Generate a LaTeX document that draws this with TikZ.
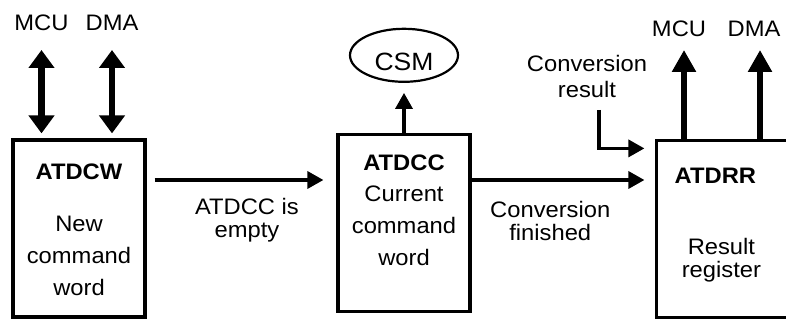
\documentclass[tikz,border=0pt]{standalone}
\usepackage{fontspec}
\setmainfont{Liberation Sans}[FakeStretch=1.06]
\usetikzlibrary{arrows.meta, positioning, shapes.geometric}
\tikzset{
    regblock/.style={rectangle, draw=black, line width=1.6pt, inner sep=0pt, minimum width=66pt, minimum height=88.5pt},
    regtitle/.style={font=\bfseries\fontsize{11.2}{13}\selectfont, inner sep=0pt, anchor=north},
    regtext/.style={font=\fontsize{11.2}{16}\selectfont, align=center, inner sep=0pt, anchor=north},
    sidelabel/.style={font=\fontsize{11.2}{11.5}\selectfont, align=center, inner sep=0pt},
    statenode/.style={ellipse, draw=black, line width=1.1pt, minimum width=54pt, minimum height=26.5pt, inner sep=0pt, font=\fontsize{12.5}{14}\selectfont, text height=15.4pt},
    sigarrow/.style={line width=1.7pt, -{Triangle[length=8pt, width=8.5pt]}},
    busout/.style={line width=3.2pt, -{Triangle[length=11pt, width=11.5pt]}},
    busio/.style={line width=3.2pt, {Triangle[length=9pt, width=12.5pt]}-{Triangle[length=9pt, width=12.5pt]}}
}

\begin{document}
\begin{tikzpicture}[x=0.5pt, y=-0.5pt]
    \useasboundingbox (0,0) rectangle (786,320);

    \node (atdcw) [regblock] at (79,228.5) {};
    \node (atdcc) [regblock] at (404,223) {};
    \node (atdrr) [regblock, minimum width=75pt] at (731.5,229) {};
    \node (csm) [statenode, above=25pt of atdcc] {CSM};

    \node (cwtitle) [regtitle, below=12.5pt of atdcw.north] {ATDCW};
    \node (cwtext) [regtext, below=38.5pt of atdcw.north] {New\\command\\word};
    \node (cctitle) [regtitle, below=11pt of atdcc.north] {ATDCC};
    \node (cctext) [regtext, below=26.5pt of atdcc.north] {Current\\command\\word};
    \node (rrtitle) [regtitle] at ([xshift=30.25pt, yshift=-14.5pt]atdrr.north west) {ATDRR};
    \node (rrtext) [regtext, font=\fontsize{11.2}{11.5}\selectfont] at ([xshift=33.25pt, yshift=-49.5pt]atdrr.north west) {Result\\register};

    \coordinate (cwmcu) at (41.5,50);
    \coordinate (cwdma) at (112,50);
    \coordinate (rrmcu) at (684,50);
    \coordinate (rrdma) at (760,50);
    \coordinate (resin) at (599,110);
    \coordinate (cwout) at ([yshift=24.25pt]atdcw.east);
    \coordinate (ccout) at ([yshift=21.5pt]atdcc.east);

    \node (mcuin) [sidelabel, above=9.5pt of cwmcu] {MCU};
    \node (dmain) [sidelabel, above=9.5pt of cwdma] {DMA};
    \node (mcuout) [sidelabel, above=6.5pt of rrmcu, xshift=-2.5pt] {MCU};
    \node (dmaout) [sidelabel, above=6.5pt of rrdma, xshift=-3pt] {DMA};
    \node (reslbl) [sidelabel, font=\fontsize{11.2}{13}\selectfont, above=6pt of resin, xshift=-6pt] {Conversion\\result};

    \draw [busio, shorten >=2.5pt] (cwmcu) -- (cwmcu |- atdcw.north);
    \draw [busio, shorten >=2.5pt] (cwdma) -- (cwdma |- atdcw.north);
    \draw [busout] (rrmcu |- atdrr.north) -- (rrmcu);
    \draw [busout] (rrdma |- atdrr.north) -- (rrdma);

    \draw [sigarrow, shorten <=4pt, shorten >=6.5pt] (cwout) -- node (emptylbl) [sidelabel, below=8.5pt, xshift=2.75pt] {ATDCC is\\empty} (cwout -| atdcc.west);
    \draw [sigarrow, shorten >=5.25pt] (ccout) -- node (finlbl) [sidelabel, below=10pt, xshift=-6.5pt] {Conversion\\finished} (ccout -| atdrr.west);
    \draw [sigarrow, shorten >=5.25pt] (resin) |- ([yshift=-4.75pt]atdrr.north west);
    \draw [sigarrow, shorten >=5pt] (atdcc) -- (csm);
\end{tikzpicture}
\end{document}
